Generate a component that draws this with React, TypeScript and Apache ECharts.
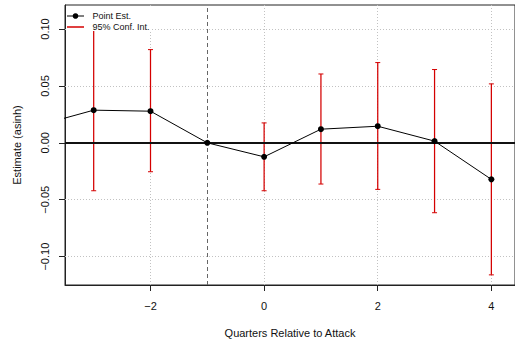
import React, { useEffect, useRef } from "react";
import * as echarts from "echarts";

const quarters = [-4, -3, -2, -1, 0, 1, 2, 3, 4];
const estimate = [0.015, 0.0287, 0.0278, 0, -0.0123, 0.012, 0.0146, 0.0015, -0.0321];
const ciLower: (number | null)[] = [null, -0.0421, -0.0254, null, -0.0421, -0.0362, -0.0409, -0.0614, -0.116];
const ciUpper: (number | null)[] = [null, 0.0995, 0.0819, null, 0.0175, 0.0605, 0.0705, 0.0644, 0.0518];
const xTicks = [-2, 0, 2, 4];
const yTicks = [-0.1, -0.05, 0, 0.05, 0.1];
const refQuarter = -1;

const RED = "#d40000";
const FONT = "'Liberation Sans', Arial, Helvetica, sans-serif";
const fmtMinus = (v: number, d: number) => (v < 0 ? "\u2212" : "") + Math.abs(v).toFixed(d);

export default function App() {
  const ref = useRef<HTMLDivElement>(null);
  useEffect(() => {
    if (!ref.current) return;
    const chart = echarts.init(ref.current, null, { renderer: "svg" });
    const lineData = quarters.map((q, i) => [q, estimate[i]]);
    const errData: number[][] = [];
    quarters.forEach((q, i) => {
      const lo = ciLower[i];
      const hi = ciUpper[i];
      if (lo != null && hi != null) errData.push([q, lo, hi]);
    });
    const gridStyle = { color: "#c2c2c2", width: 1, type: [1, 2] as any };
    chart.setOption({
      animation: false,
      textStyle: { fontFamily: FONT },
      grid: {
        left: 65,
        top: 5,
        width: 451,
        height: 280,
        show: true,
        borderColor: "#222",
        borderWidth: 1,
        backgroundColor: "transparent",
      },
      xAxis: {
        type: "value",
        min: -3.505,
        max: 4.416,
        axisLine: { show: true, onZero: false, lineStyle: { color: "#222" } },
        axisTick: { show: true, length: 6, customValues: xTicks, lineStyle: { color: "#222" } },
        axisLabel: {
          customValues: xTicks,
          formatter: (v: number) => fmtMinus(v, 0),
          color: "#111",
          fontSize: 11,
          margin: 15,
          fontFamily: FONT,
        },
        splitLine: { show: false },
        name: "Quarters Relative to Attack",
        nameLocation: "middle",
        nameGap: 42,
        nameTextStyle: { color: "#111", fontSize: 11, fontFamily: FONT },
      },
      yAxis: {
        type: "value",
        min: -0.1249,
        max: 0.1211,
        axisLine: { show: true, onZero: false, lineStyle: { color: "#222" } },
        axisTick: { show: true, length: 6, customValues: yTicks, lineStyle: { color: "#222" } },
        axisLabel: {
          customValues: yTicks,
          formatter: (v: number) => fmtMinus(v, 2),
          rotate: 90,
          color: "#111",
          fontSize: 11,
          margin: 15,
          fontFamily: FONT,
        },
        splitLine: { show: false },
        name: "Estimate (asinh)",
        nameLocation: "middle",
        nameGap: 43,
        nameTextStyle: { color: "#111", fontSize: 11, fontFamily: FONT },
      },
      series: [
        {
          type: "line",
          data: [],
          z: 1,
          silent: true,
          markLine: {
            z: 1,
            silent: true,
            symbol: "none",
            label: { show: false },
            lineStyle: gridStyle,
            data: [
              ...xTicks.map((v) => ({ xAxis: v })),
              ...yTicks.filter((v) => v !== 0).map((v) => ({ yAxis: v })),
            ],
          },
        },
        {
          type: "custom",
          z: 2,
          data: errData,
          encode: { x: 0, y: [1, 2] },
          renderItem: (params: any, api: any) => {
            const x = api.value(0);
            const pLo = api.coord([x, api.value(1)]);
            const pHi = api.coord([x, api.value(2)]);
            const cap = 2.5;
            return {
              type: "group",
              children: [
                { type: "line", shape: { x1: pLo[0], y1: pLo[1], x2: pHi[0], y2: pHi[1] }, style: { stroke: RED, lineWidth: 1.25 } },
                { type: "line", shape: { x1: pLo[0] - cap, y1: pLo[1], x2: pLo[0] + cap, y2: pLo[1] }, style: { stroke: RED, lineWidth: 1 } },
                { type: "line", shape: { x1: pHi[0] - cap, y1: pHi[1], x2: pHi[0] + cap, y2: pHi[1] }, style: { stroke: RED, lineWidth: 1 } },
              ],
            };
          },
        },
        {
          type: "line",
          z: 3,
          data: [],
          silent: true,
          markLine: {
            z: 3,
            silent: true,
            symbol: "none",
            label: { show: false },
            data: [
              { yAxis: 0, lineStyle: { color: "#111", width: 2, type: "solid" } },
              { xAxis: refQuarter, lineStyle: { color: "#666", width: 1, type: [4, 3] } },
            ],
          },
        },
        {
          type: "line",
          z: 4,
          data: lineData,
          symbol: "circle",
          symbolSize: 6,
          showAllSymbol: true,
          itemStyle: { color: "#000" },
          lineStyle: { color: "#000", width: 1 },
          clip: true,
        },
      ],
      graphic: [
        { type: "rect", z: 100, shape: { x: 66, y: 6, width: 85, height: 25 }, style: { fill: "#fff" } },
        { type: "line", z: 101, shape: { x1: 67, y1: 16, x2: 84, y2: 16 }, style: { stroke: "#000", lineWidth: 1 } },
        { type: "circle", z: 101, shape: { cx: 75.5, cy: 16, r: 2.8 }, style: { fill: "#000" } },
        { type: "text", z: 101, x: 92.5, y: 16, style: { text: "Point Est.", fontSize: 9, fontFamily: FONT, fill: "#111", verticalAlign: "middle" } },
        { type: "line", z: 101, shape: { x1: 67, y1: 27, x2: 84, y2: 27 }, style: { stroke: RED, lineWidth: 1.5 } },
        { type: "text", z: 101, x: 92.5, y: 27, style: { text: "95% Conf. Int.", fontSize: 9, fontFamily: FONT, fill: "#111", verticalAlign: "middle" } },
      ],
    });
    return () => chart.dispose();
  }, []);
  return <div ref={ref} style={{ width: 515, height: 343, position: "absolute", left: 0, top: 0 }} />;
}
